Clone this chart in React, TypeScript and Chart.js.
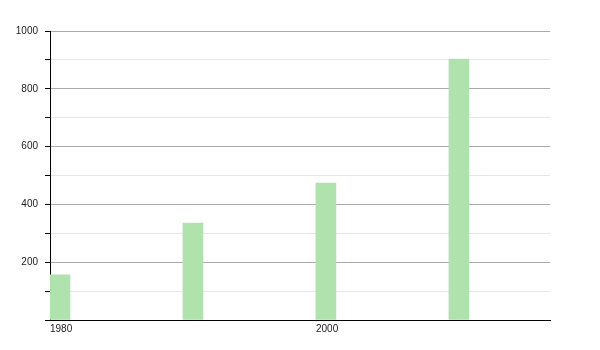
import React, { useEffect, useRef } from "react";
import { Chart, registerables } from "chart.js";

Chart.register(...registerables);

const years = [1980, 1990, 2000, 2010];
const values = [156, 335, 474, 903];
const xTickYears = [1980, 2000];
const yLabelStep = 200;

export default function App() {
  const ref = useRef<HTMLCanvasElement | null>(null);

  useEffect(() => {
    if (!ref.current) return;
    const chart = new Chart(ref.current, {
      type: "bar",
      data: {
        datasets: [
          {
            data: years.map((y, i) => ({ x: y + 0.75, y: values[i] })),
            backgroundColor: "rgba(176,226,174,1)",
            borderWidth: 0,
            barThickness: 20,
          },
        ],
      },
      options: {
        animation: false,
        responsive: false,
        maintainAspectRatio: false,
        layout: { padding: { left: 0, right: 50, top: 31, bottom: 0 } },
        plugins: { legend: { display: false }, tooltip: { enabled: false } },
        scales: {
          x: {
            type: "linear",
            min: 1980,
            max: 2017.6,
            offset: false,
            afterFit: (s: any) => {
              s.height = 30;
            },
            afterBuildTicks: (s: any) => {
              s.ticks = xTickYears.map((v) => ({ value: v }));
            },
            grid: { display: false, drawTicks: false },
            border: { display: true, color: "#000", width: 1 },
            ticks: {
              align: "start",
              padding: 3,
              color: "#222",
              font: { family: "Liberation Sans, Arial", size: 10 },
              callback: (v: any) => String(v),
            },
          },
          y: {
            min: 0,
            max: 1000,
            afterFit: (s: any) => {
              s.width = 50;
            },
            grid: {
              color: (ctx: any) =>
                ctx.tick && ctx.tick.value % yLabelStep === 0 ? "#aaaaaa" : "#e6e6e6",
              tickColor: "#000",
              tickLength: 5,
              lineWidth: 1,
            },
            border: { display: true, color: "#000", width: 1 },
            ticks: {
              stepSize: 100,
              padding: 7,
              color: "#222",
              font: { family: "Liberation Sans, Arial", size: 10 },
              callback: (v: any) =>
                v !== 0 && v % yLabelStep === 0 ? String(v) : "",
            },
          },
        },
      },
    });
    return () => chart.destroy();
  }, []);

  return (
    <div style={{ position: "fixed", left: 0, top: 0, width: 600, height: 350, background: "#fff" }}>
      <canvas ref={ref} width={600} height={350} />
    </div>
  );
}
